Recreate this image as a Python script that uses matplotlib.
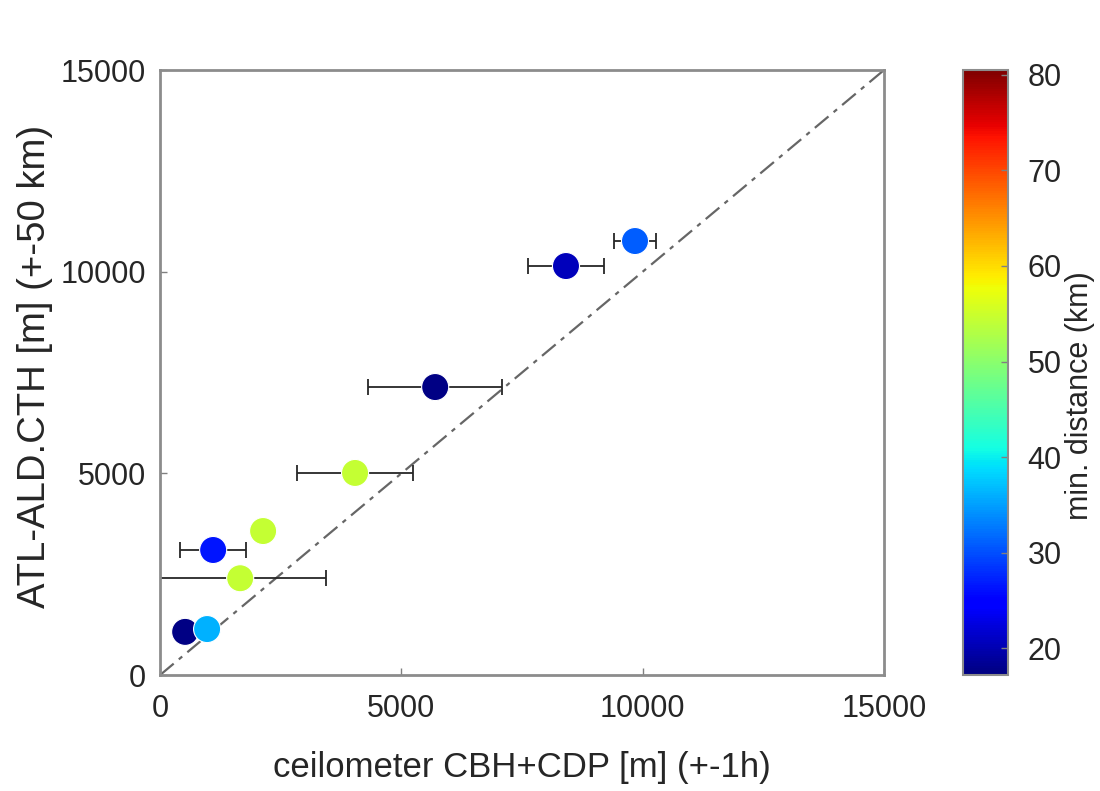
import numpy as np
import matplotlib
matplotlib.use("Agg")
from matplotlib import pyplot as plt

plt.rcParams['font.family'] = ['Liberation Sans', 'DejaVu Sans']

# ceilometer CBH+CDP [m], ATL-ALD CTH [m], x error [m], min distance [km]
ceil_x = [520, 975, 1660, 1100, 2135, 4040, 5700, 8410, 9840]
atl_y = [1070, 1140, 2400, 3100, 3570, 5010, 7140, 10140, 10760]
x_err = [0, 0, 1780, 690, 0, 1210, 1390, 780, 435]
min_dist = [17.5, 36.0, 54.5, 26.5, 54.5, 54.5, 17.5, 20.5, 31.0]

cmin, cmax = 17.2, 80.5

fig = plt.figure(figsize=(11, 7.91), dpi=100)
ax = fig.add_axes([0.1455, 0.1466, 0.6582, 0.7649])
cax = fig.add_axes([0.8755, 0.1466, 0.041, 0.7649])

ax.plot([0, 15000], [0, 15000], linestyle=(0, (8, 3, 2, 3)), color='0.4', lw=1.6, zorder=1)

for x, y, e in zip(ceil_x, atl_y, x_err):
    if e > 0:
        ax.errorbar(x, y, xerr=e, fmt='none', ecolor='0.15', elinewidth=1.3,
                    capsize=6, capthick=1.3, zorder=2)

sc = ax.scatter(ceil_x, atl_y, c=min_dist, cmap='jet', vmin=cmin, vmax=cmax,
                s=380, edgecolors='white', linewidths=0.8, zorder=3)

ax.set_xlim(0, 15000)
ax.set_ylim(0, 15000)
ax.set_xticks([0, 5000, 10000, 15000])
ax.set_yticks([0, 5000, 10000, 15000])
ax.tick_params(direction='in', length=5, width=1, colors='0.5', labelsize=22,
               labelcolor='0.15', pad=10)
ax.tick_params(axis='x', pad=14)
for sp in ax.spines.values():
    sp.set_color('0.55')
    sp.set_linewidth(2)
ax.set_xlabel('ceilometer CBH+CDP [m] (+-1h)', fontsize=25, color='0.15')
ax.set_ylabel('ATL-ALD.CTH [m] (+-50 km)', fontsize=27.5, color='0.15')
ax.xaxis.set_label_coords(0.5, -0.125)
ax.yaxis.set_label_coords(-0.148, 0.51)

cb = fig.colorbar(sc, cax=cax)
cb.set_ticks([20, 30, 40, 50, 60, 70, 80])
cb.ax.tick_params(direction='in', length=5, width=1, colors='0.5', labelsize=22,
                  labelcolor='0.15', pad=14)
cb.outline.set_edgecolor('0.55')
cb.outline.set_linewidth(1.5)
fig.text(0.968, 0.50, 'min. distance (km)', rotation=90, fontsize=22, color='0.15',
         ha='left', va='center')

fig.savefig('out.png', dpi=100)
